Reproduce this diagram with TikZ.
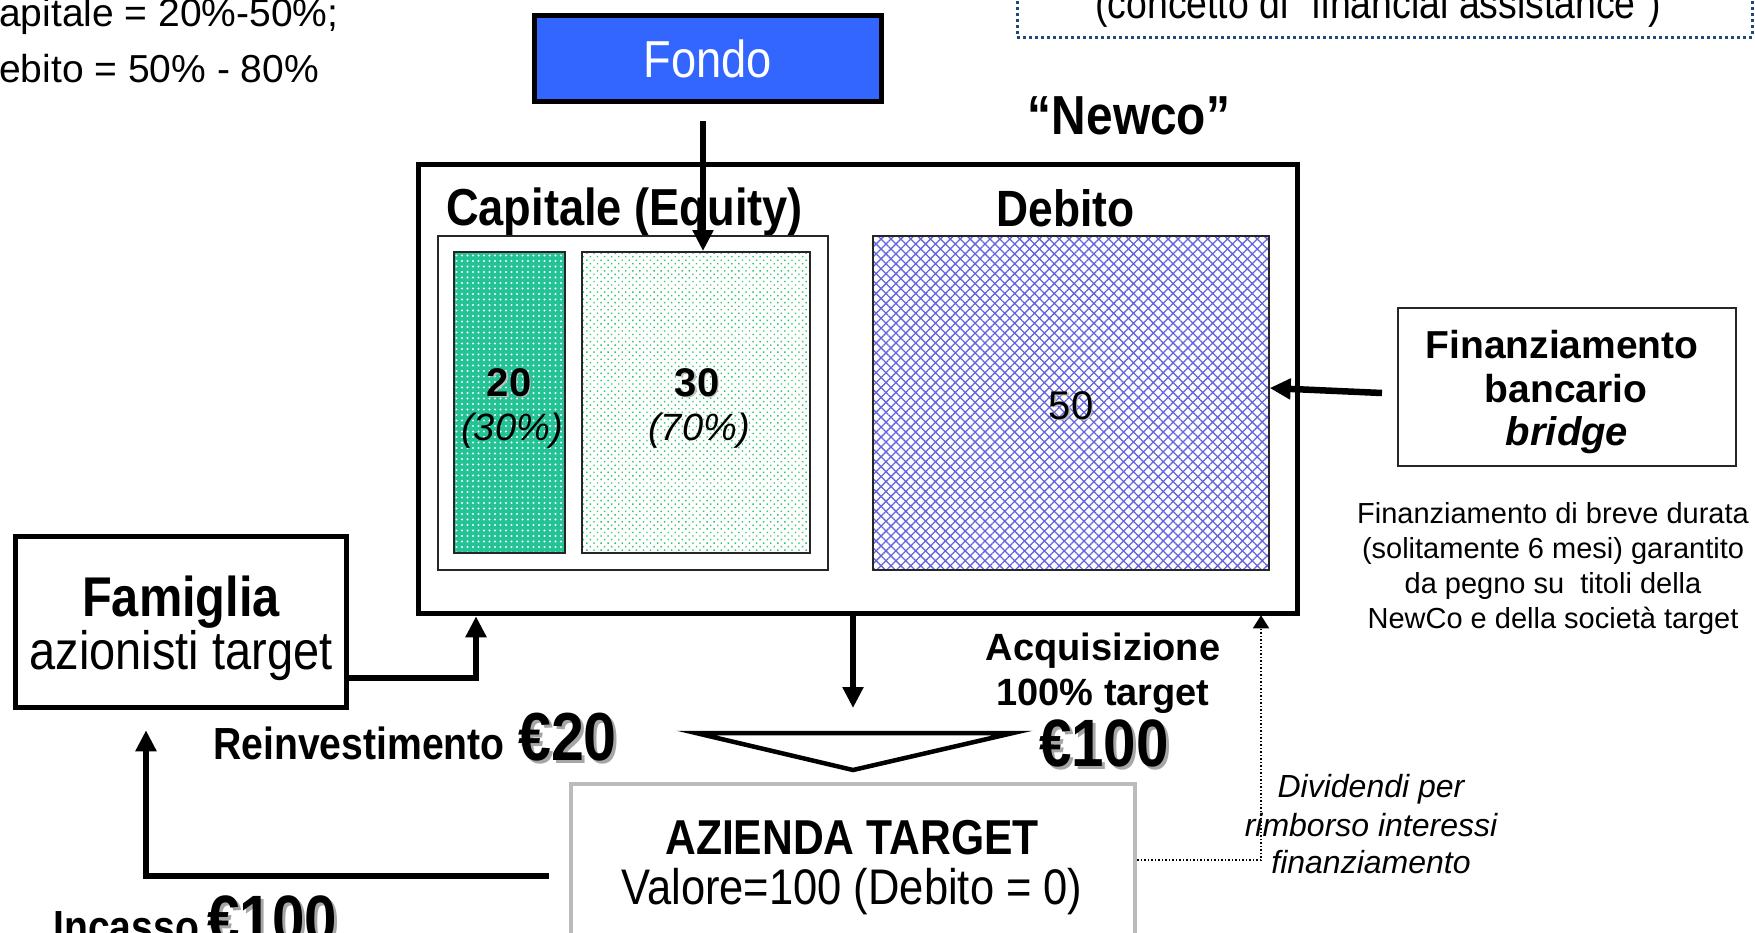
\documentclass[tikz,border=0pt]{standalone}
\usepackage{fontspec}
\setmainfont{Liberation Sans}
\newfontfamily\cond[FakeStretch=0.87]{Liberation Sans}
\usetikzlibrary{arrows.meta,patterns.meta}
\newcommand\setsz[1]{\fontsize{#1}{#1}\selectfont}
\definecolor{fondoblue}{RGB}{51,102,255}
\definecolor{teal20}{RGB}{35,195,150}
\definecolor{dotgreen}{RGB}{40,200,110}
\definecolor{debtblue}{RGB}{100,100,225}
\definecolor{navydot}{RGB}{31,73,125}
\definecolor{azgray}{RGB}{187,187,187}
\begin{document}
\begin{tikzpicture}[x=1pt,y=-1pt,
  every node/.style={inner sep=0pt},
  thickbox/.style={draw=black, line width=5.5pt},
  thinbox/.style={draw=black!85, line width=2pt},
  txt/.style={anchor=base, inner sep=0pt},
  flow/.style={line width=6.5pt, -{Triangle[length=21pt,width=20pt]}},
  dotflow/.style={line width=1.5pt, dotted, -{Triangle[length=13pt,width=16pt]}},
  shadowtxt/.style={txt, text=black!35}]
\useasboundingbox (0,0) rectangle (1755,932);
\fill[white] (0,0) rectangle (1755,932);

% top-left text
\node[txt, anchor=base west] (tl1) at (-1,26) {\setsz{39}apitale = 20\%-50\%;};
\node[txt, anchor=base west] (tl2) at (-1,82) {\setsz{39}ebito = 50\% - 80\%};

% financial assistance box (cut off)
\node[draw=navydot, line width=3pt, dash pattern=on 3pt off 3pt, minimum width=735pt, minimum height=120pt] (fa) at (1384.5,-23) {};
\node[txt] (fat) at (1378,18) {\cond\setsz{43}(concetto di “financial assistance”)};

% Fondo
\node[thickbox, fill=fondoblue, minimum width=347pt, minimum height=86pt] (fondo) at (708,58.5) {};
\node[txt, text=white] (fondot) at (708,77) {\cond\setsz{52}Fondo};

% Newco
\node[txt] (newcot) at (1129,134) {\cond\bfseries\setsz{55}“Newco”};
\node[thickbox, minimum width=879pt, minimum height=449pt] (newco) at (858,389) {};
\node[txt] (capt) at (624.5,225) {\cond\bfseries\setsz{52}Capitale (Equity)};
\node[txt] (debtt) at (1065.5,226) {\cond\bfseries\setsz{51}Debito};
\node[thinbox, fill=white, minimum width=390pt, minimum height=334pt] (eqbox) at (633,403) {};
\node[thinbox, preaction={fill=teal20}, pattern={Dots[distance=5.5pt,radius=1.2pt]}, pattern color=white,
      minimum width=111pt, minimum height=301pt] (e20) at (509.5,402.5) {};
\node[thinbox, preaction={fill=white}, pattern={Dots[distance=5pt,radius=1pt,angle=45]}, pattern color=dotgreen,
      minimum width=228pt, minimum height=301pt] (e30) at (696,402.5) {};
\node[thinbox, preaction={fill=white}, pattern={Hatch[distance=7pt,angle=45,line width=1.3pt]}, pattern color=debtblue,
      minimum width=396pt, minimum height=334pt] (debt) at (1071,403) {};
\node[shadowtxt, text=black!25] (n20s) at (510.5,397.5) {\bfseries\setsz{40}20};
\node[txt] (n20) at (509,396) {\bfseries\setsz{40}20};
\node[txt] (p30) at (512,440) {\itshape\setsz{38}(30\%)};
\node[shadowtxt, text=black!25] (n30s) at (698.5,397.5) {\bfseries\setsz{40}30};
\node[txt] (n30) at (697,396) {\bfseries\setsz{40}30};
\node[txt] (p70) at (699,440) {\itshape\setsz{38}(70\%)};
\node[shadowtxt, text=black!25] (n50s) at (1072.5,420.5) {\setsz{40}50};
\node[txt] (n50) at (1071,419) {\setsz{40}50};

% Finanziamento bancario
\node[thinbox, minimum width=338pt, minimum height=158pt] (fin) at (1567,387) {};
\node[txt] (fin1) at (1562,358) {\bfseries\setsz{39}Finanziamento};
\node[txt] (fin2) at (1566,402) {\bfseries\setsz{39}bancario};
\node[txt] (fin3) at (1567,445) {\bfseries\itshape\setsz{40}bridge};
\node[txt] (note1) at (1553,523) {\setsz{29}Finanziamento di breve durata};
\node[txt] (note2) at (1553,558) {\setsz{29}(solitamente 6 mesi) garantito};
\node[txt] (note3) at (1553,593) {\setsz{29}da pegno su~ titoli della};
\node[txt] (note4) at (1553,628) {\setsz{29}NewCo e della società target};

% Famiglia
\node[thickbox, minimum width=331pt, minimum height=171pt] (fam) at (181,622) {};
\node[txt] (fam1) at (181,616) {\cond\bfseries\setsz{56}Famiglia};
\node[txt] (fam2) at (181,669) {\cond\setsz{54}azionisti target};

% Reinvestimento
\node[txt, anchor=base west] (reinv) at (213,759) {\cond\bfseries\setsz{45}Reinvestimento};
\node[shadowtxt, anchor=base west] (e20s) at (521,763) {\cond\bfseries\setsz{68}€20};
\node[txt, anchor=base west] (e20t) at (518,760) {\cond\bfseries\setsz{68}€20};

% Acquisizione
\node[txt] (acq1) at (1103,660) {\bfseries\setsz{38}Acquisizione};
\node[txt] (acq2) at (1103,705) {\bfseries\setsz{38}100\% target};
\node[shadowtxt] (e100s) at (1107,769) {\cond\bfseries\setsz{67}€100};
\node[txt] (e100t) at (1104,766) {\cond\bfseries\setsz{67}€100};

% merger symbol
\draw[line width=4.5pt, fill=white, line join=miter] (696,733) coordinate (mL) -- (1013,733) coordinate (mR) -- (853,770) coordinate (mB) -- cycle;

% Azienda target
\node[draw=azgray, line width=4.5pt, minimum width=564pt, minimum height=160pt] (az) at (853,864) {};
\node[txt] (az1) at (852,854) {\cond\bfseries\setsz{49}AZIENDA TARGET};
\node[txt] (az2) at (852,904) {\cond\setsz{50}Valore=100 (Debito = 0)};

% Dividendi
\node[txt] (div1) at (1371,797) {\itshape\setsz{32}Dividendi per};
\node[txt] (div2) at (1371,836) {\itshape\setsz{32}rimborso interessi};
\node[txt] (div3) at (1371,873) {\itshape\setsz{32}finanziamento};

% Incasso
\node[txt, anchor=base west] (inc) at (53,942) {\cond\bfseries\setsz{45}Incasso};
\node[shadowtxt, anchor=base west] (inc100s) at (210,945) {\cond\bfseries\setsz{67}€100};
\node[txt, anchor=base west] (inc100) at (207,942) {\cond\bfseries\setsz{67}€100};

% connectors
\coordinate (fx) at (703,0);
\draw[flow, shorten <=17pt] (fondo.south -| fx) -- (e30.north -| fx);
\draw[flow] ([xshift=-15pt,yshift=-6pt]fin.west) -- ([yshift=15pt]debt.east);
\coordinate (famx) at (476,0);
\draw[flow] ([yshift=-56pt]fam.east) -| (newco.south -| famx);
\coordinate (downend) at (853,708);
\draw[flow] (newco.south -| az.north) -- (downend);
\coordinate (fx2) at (146,0);
\draw[flow, shorten >=20pt] ([xshift=-20pt,yshift=-12pt]az.west) -| (fam.south -| fx2);
\coordinate (dx) at (1261,0);
\draw[dotflow, shorten >=-1pt] ([yshift=4pt]az.east) -| (newco.south -| dx);
\end{tikzpicture}
\end{document}
